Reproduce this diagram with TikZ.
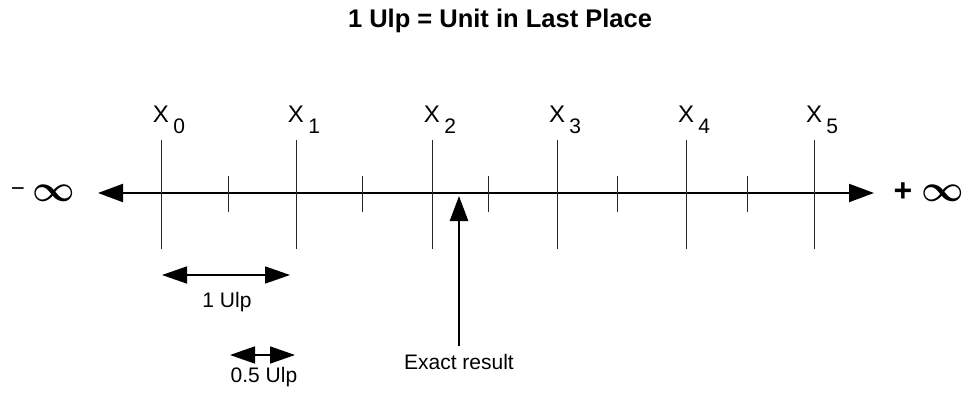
\documentclass[tikz,border=0pt]{standalone}
\usepackage{fontspec}
\usepackage{graphicx}
\setmainfont{Liberation Sans}
\usetikzlibrary{arrows.meta}
\begin{document}
\begin{tikzpicture}[x=1pt,y=-1pt,
  majortick/.style={draw=black!85,line width=1pt},
  minortick/.style={draw=black!85,line width=1pt},
  axisline/.style={draw=black,line width=2pt,{Triangle[length=25pt,width=18pt]}-{Triangle[length=25pt,width=18pt]}},
  ptrarrow/.style={draw=black,line width=2.6pt,-{Triangle[length=25pt,width=18pt]}},
  dimarrow/.style={draw=black,line width=1.6pt,{Triangle[length=25pt,width=17pt]}-{Triangle[length=25pt,width=17pt]}},
  lbl/.style={font=\fontsize{21}{21}\selectfont,inner sep=0pt,anchor=base},
  xlbl/.style={font=\fontsize{24}{24}\selectfont,inner sep=0pt,anchor=base},
  sublbl/.style={font=\fontsize{21}{21}\selectfont,inner sep=0pt,anchor=base west},
  inflbl/.style={inner sep=0pt},
]
\useasboundingbox (0,0) rectangle (967,396);

% title
\node[font=\bfseries\fontsize{25.5}{25.5}\selectfont,inner sep=0pt,anchor=base] (title) at (500,28) {1 Ulp = Unit in Last Place};

% axis
\coordinate (axl) at (98,193);
\coordinate (axr) at (874,193);
\draw[axisline] (axl) -- (axr);

% infinity labels
\node[inflbl,font=\fontsize{24}{24}\selectfont] (minus) at (18,192) {−};
\node[inflbl] (ninf) at (54,193) {\scalebox{3.7}{\boldmath$\infty$}};
\node[inflbl,font=\bfseries\fontsize{32}{32}\selectfont] (plus) at (903,192) {+};
\node[inflbl] (pinf) at (943,193) {\scalebox{3.7}{\boldmath$\infty$}};

% major ticks and labels
\foreach \i/\x in {0/161,1/296,2/432,3/557,4/686,5/814}{
  \coordinate (t\i top) at (\x,140);
  \coordinate (t\i bot) at (\x,249);
  \draw[majortick] (t\i top) -- (t\i bot);
  \node[xlbl] (X\i) at (\x,122) {X};
  \node[sublbl] (S\i) at ([xshift=4pt]X\i.base east) [yshift=-11pt] {\i};
}

% minor ticks
\foreach \j/\x in {a/228,b/362,c/488,d/617,e/747}{
  \coordinate (m\j top) at (\x,176);
  \coordinate (m\j bot) at (\x,212);
  \draw[minortick] (m\j top) -- (m\j bot);
}

% exact result pointer
\node[lbl] (exact) at (459,369) {Exact result};
\coordinate (hit) at (459,196);
\coordinate (tail) at (459,346);
\draw[ptrarrow] (tail) -- (hit);

% 1 Ulp
\coordinate (u1l) at (162,275);
\coordinate (u1r) at (290,275);
\draw[dimarrow] (u1l) -- (u1r);
\node[lbl] (ulp1) at (227,307) {1 Ulp};

% 0.5 Ulp
\coordinate (u2l) at (230,355);
\coordinate (u2r) at (295,355);
\draw[dimarrow] (u2l) -- (u2r);
\node[lbl] (ulp2) at (264,382) {0.5 Ulp};
\end{tikzpicture}
\end{document}
